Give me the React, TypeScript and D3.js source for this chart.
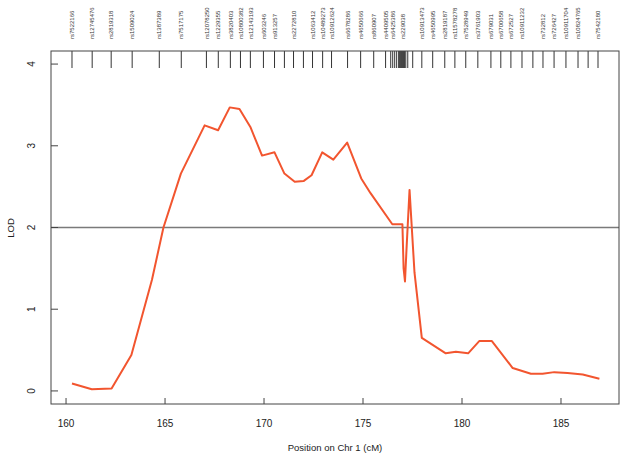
import React from "react";
import * as d3 from "d3";

const markerNames = [
  "rs7522166", "rs12745476", "rs2819318", "rs1509024", "rs1387389", "rs7517175",
  "rs12078250", "rs1229355", "rs3820403", "rs10800382", "rs12143193", "rs603246",
  "rs913257", "rs2272810", "rs1063412", "rs10489273", "rs10912624", "rs6678286",
  "rs4650666", "rs860907", "rs4409505", "rs6425386", "rs229038", "rs10913473",
  "rs4650995", "rs2819187", "rs11578278", "rs7528949", "rs3761903", "rs679031",
  "rs6700658", "rs672527", "rs10911232", "rs732812", "rs726427", "rs10911704",
  "rs10824765", "rs7542180",
];
const markerPos = [
  160.3, 161.32, 162.28, 163.34, 164.71, 165.82,
  167.09, 167.69, 168.3, 168.81, 169.31, 169.97,
  170.53, 171.49, 172.45, 172.96, 173.41, 174.22,
  174.88, 175.54, 176.14, 176.5, 177.0, 177.97,
  178.52, 179.13, 179.64, 180.19, 180.8, 181.46,
  181.96, 182.47, 183.03, 184.09, 184.65, 185.25,
  185.86, 186.87,
];
const extraMarkerPos = [
  171.03, 171.99, 176.4, 176.6, 176.7, 176.8, 176.85, 176.9, 176.95,
  177.05, 177.1, 177.16, 177.26, 177.51, 183.58, 186.37,
];

const lodPos = [
  160.3, 161.3, 162.3, 163.3, 164.34, 164.92, 165.8, 167.0, 167.68, 168.27,
  168.76, 169.31, 169.9, 170.53, 171.03, 171.55, 172.01, 172.4, 172.94, 173.5,
  174.2, 174.91, 175.38, 176.48, 176.99, 177.05, 177.12, 177.2, 177.35, 177.6,
  177.97, 179.18, 179.69, 180.31, 180.87, 181.51, 182.56, 183.48, 184.07, 184.66,
  185.33, 186.1, 186.94,
];
const lodValues = [
  0.09, 0.02, 0.03, 0.44, 1.36, 2.0, 2.66, 3.25, 3.19, 3.47,
  3.45, 3.23, 2.88, 2.92, 2.66, 2.56, 2.57, 2.64, 2.92, 2.83,
  3.04, 2.6, 2.42, 2.04, 2.04, 1.5, 1.34, 1.75, 2.46, 1.45,
  0.65, 0.46, 0.48, 0.46, 0.61, 0.61, 0.28, 0.21, 0.21, 0.23,
  0.22, 0.2, 0.15,
];

const xTicks = [160, 165, 170, 175, 180, 185];
const yTicks = [0, 1, 2, 3, 4];
const threshold = 2;

export default function App() {
  const W = 624, H = 458;
  const left = 51, right = 619, top = 51, bottom = 404;
  const x = d3.scaleLinear().domain([159.24, 187.93]).range([left, right]);
  const y = d3.scaleLinear().domain([-0.16, 4.16]).range([bottom, top]);
  const pts: [number, number][] = lodPos.map((p, i) => [p, lodValues[i]]);
  const line = d3.line<[number, number]>().x(d => x(d[0])).y(d => y(d[1]));
  const font = "Liberation Sans, Arial, Helvetica, sans-serif";
  const axisColor = "#444";

  return (
    <svg width={W} height={H} style={{ position: "absolute", left: 0, top: 0, background: "#fff" }}
      fontFamily={font}>
      <rect x={0} y={0} width={W} height={H} fill="#fff" />
      {/* marker ticks */}
      {markerPos.concat(extraMarkerPos).map((p, i) => (
        <line key={"m" + i} x1={x(p)} x2={x(p)} y1={top} y2={68} stroke="#333" strokeWidth={1} />
      ))}
      {markerNames.map((n, i) => (
        <text key={"ml" + i} transform={`translate(${x(markerPos[i]) + 2.2},39) rotate(-90)`}
          fontSize={6} fill="#333" textAnchor="start">{n}</text>
      ))}
      {/* threshold line */}
      <line x1={left} x2={right} y1={y(threshold)} y2={y(threshold)} stroke="#7a7a7a" strokeWidth={1.6} />
      {/* LOD curve */}
      <path d={line(pts) || ""} fill="none" stroke="#f2552f" strokeWidth={2} strokeLinejoin="round" />
      {/* frame */}
      <rect x={left} y={top} width={right - left} height={bottom - top} fill="none" stroke={axisColor} strokeWidth={1} />
      {/* x axis ticks */}
      {xTicks.map(t => (
        <g key={"x" + t}>
          <line x1={x(t)} x2={x(t)} y1={bottom} y2={bottom - 6} stroke={axisColor} />
          <text x={x(t)} y={427} fontSize={10} textAnchor="middle" fill="#222">{t}</text>
        </g>
      ))}
      {yTicks.map(t => (
        <g key={"y" + t}>
          <line x1={left} x2={left + 7} y1={y(t)} y2={y(t)} stroke={axisColor} />
          <text transform={`translate(35,${y(t)}) rotate(-90)`} fontSize={10} textAnchor="middle" fill="#222">{t}</text>
        </g>
      ))}
      <text x={335} y={451} fontSize={9.5} textAnchor="middle" fill="#222">Position on Chr 1 (cM)</text>
      <text transform={`translate(14,228) rotate(-90)`} fontSize={9.5} textAnchor="middle" fill="#222">LOD</text>
    </svg>
  );
}
